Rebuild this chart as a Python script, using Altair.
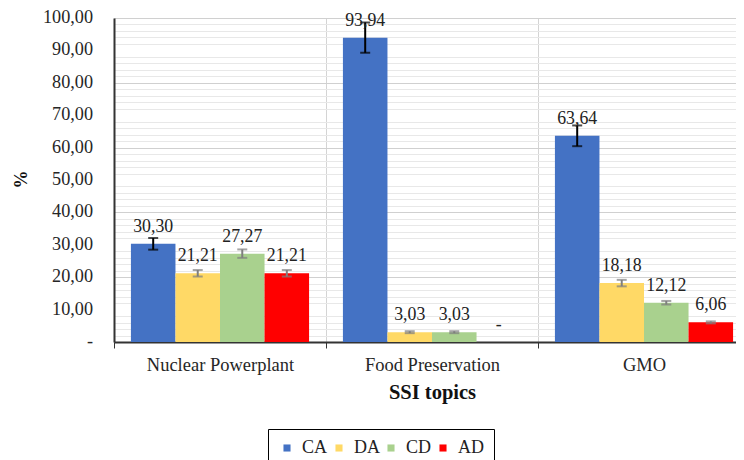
import altair as alt
import pandas as pd

topics = ["Nuclear Powerplant", "Food Preservation", "GMO"]
series = ["CA", "DA", "CD", "AD"]
colors = ["#4472C4", "#FFD966", "#A9D18E", "#FF0000"]
ca = [30.30, 93.94, 63.64]
da = [21.21, 3.03, 18.18]
cd = [27.27, 3.03, 12.12]
ad = [21.21, 0.00, 6.06]
ca_err = [1.8, 4.7, 3.2]
da_err = [1.0, 0.3, 1.0]
cd_err = [1.3, 0.3, 0.55]
ad_err = [1.0, 0.0, 0.3]
y_ticks = [0, 10, 20, 30, 40, 50, 60, 70, 80, 90, 100]
y_tick_labels = ["-", "10,00", "20,00", "30,00", "40,00", "50,00", "60,00",
                 "70,00", "80,00", "90,00", "100,00"]
minor_ticks = [2, 4, 6, 8, 12, 14, 16, 18, 22, 24, 26, 28, 32, 34, 36, 38,
               42, 44, 46, 48, 52, 54, 56, 58, 62, 64, 66, 68, 72, 74, 76, 78,
               82, 84, 86, 88, 92, 94, 96, 98]

vals = {"CA": ca, "DA": da, "CD": cd, "AD": ad}
errs = {"CA": ca_err, "DA": da_err, "CD": cd_err, "AD": ad_err}

rows = []
for s in series:
    for i, t in enumerate(topics):
        v = vals[s][i]
        e = errs[s][i]
        lab = "-" if v == 0 else f"{v:.2f}".replace(".", ",")
        rows.append({"topic": t, "series": s, "value": v, "err": e,
                     "lo": v - e, "hi": v + e, "label": lab})
df = pd.DataFrame(rows)
minor_df = pd.DataFrame({"value": minor_ticks})
ticklab_df = pd.DataFrame({"value": y_ticks, "label": y_tick_labels})

FONT = "Liberation Serif"
yscale = alt.Scale(domain=[0, 100], nice=False, zero=True)
xscale = alt.Scale(range=[0, 636], paddingInner=0, paddingOuter=0)
xaxis = alt.Axis(title="SSI topics", labelAngle=0, grid=True,
                 tickBand="extent", gridColor="#d4d4d4",
                 labelFontSize=18.5, labelPadding=7, tickSize=6,
                 titleX=318, titleY=56, titleBaseline="alphabetic",
                 titleAlign="center", titleFontSize=20.5)
main_yaxis = alt.Axis(orient="left", title="%", values=y_ticks, tickCount=10,
                      grid=True, gridColor="#d0d0d0", labels=False, ticks=False,
                      titleX=-88, titleY=161, titleAngle=270, titleFontSize=18,
                      titleAlign="center", titleBaseline="alphabetic")
minor_yaxis = alt.Axis(orient="right", values=minor_ticks, grid=True,
                       gridColor="#e8e8e8", labels=False, ticks=False,
                       domain=False, title=None)

def X():
    return alt.X("topic:N", sort=topics, scale=xscale, axis=xaxis)

def Y(field):
    return alt.Y(field, scale=yscale, axis=None)

xoff = alt.XOffset("series:N", sort=series,
                   scale=alt.Scale(paddingOuter=0.38, paddingInner=0))

minor = alt.Chart(minor_df).mark_rule(opacity=0).encode(
    y=alt.Y("value:Q", scale=yscale, axis=minor_yaxis),
)
ticklabs = alt.Chart(ticklab_df).mark_text(
    font=FONT, fontSize=18.2, align="right", baseline="middle",
    color="#262626", dx=-21).encode(
    y=Y("value:Q"), x=alt.value(0), text="label:N")

base = alt.Chart(df)

bars = base.mark_bar().encode(
    x=X(),
    xOffset=xoff,
    y=alt.Y("value:Q", scale=yscale, axis=main_yaxis),
    color=alt.Color("series:N", sort=series,
                    scale=alt.Scale(domain=series, range=colors),
                    legend=alt.Legend(title=None, orient="none", legendX=154,
                                      legendY=411, direction="horizontal",
                                      symbolType="square", symbolSize=50,
                                      symbolStrokeWidth=0, labelFont=FONT,
                                      labelFontSize=18, labelColor="#222",
                                      strokeColor="#000", padding=10,
                                      columnPadding=2, labelOffset=6)),
)

err_src = base.transform_filter("datum.err > 0")

def err_layers(filt, col):
    src = err_src.transform_filter(filt)
    rule = src.mark_rule(color=col, strokeWidth=2).encode(
        x=X(), xOffset=xoff, y=Y("lo:Q"), y2="hi:Q")
    cap_lo = src.mark_tick(color=col, size=10, thickness=2).encode(
        x=X(), xOffset=xoff, y=Y("lo:Q"))
    cap_hi = src.mark_tick(color=col, size=10, thickness=2).encode(
        x=X(), xOffset=xoff, y=Y("hi:Q"))
    return [rule, cap_lo, cap_hi]

labels = base.mark_text(font=FONT, fontSize=17.8, baseline="alphabetic", dy=-12,
                        color="#222").encode(
    x=X(), xOffset=xoff, y=Y("value:Q"), text="label:N")

chart = alt.layer(
    minor, bars, ticklabs,
    *err_layers("datum.series == 'CA'", "#000000"),
    *err_layers("datum.series != 'CA'", "#7f7f7f"),
    labels
).resolve_scale(y="shared").resolve_axis(y="independent").properties(
    width=622, height=324,
    autosize=alt.AutoSizeParams(type="none"),
    padding={"left": 106, "top": 10, "right": 0, "bottom": 118},
).configure_view(stroke=None).configure_axis(
    labelFont=FONT, labelColor="#262626",
    titleFont=FONT, titleFontWeight="bold", titleColor="#111",
    domainColor="#333", domainWidth=2, tickColor="#333",
)

chart.save("out.html", embed_options={"renderer": "svg", "actions": False})
